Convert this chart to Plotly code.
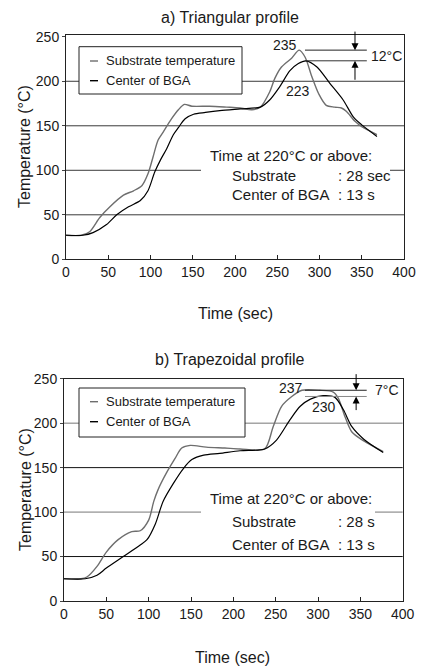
import plotly.graph_objects as go

# ---------------- data ----------------
# a) Triangular profile
a_sub_t = [0, 18, 28, 40, 52, 68, 80, 90, 97, 103, 109, 115, 125, 133, 140, 149, 170, 190, 206, 220,
           230, 241, 247, 255, 267, 276, 283, 291, 299, 308, 318, 326, 332, 342, 350, 368]
a_sub_v = [27, 27, 31, 47, 59, 72, 77, 83, 96, 115, 134, 143, 158, 168, 174, 172, 172, 171, 170, 168,
           171, 188, 203, 216, 226, 235, 227, 205, 186, 173, 171, 170, 166, 155, 149, 140]
a_bga_t = [0, 20, 32, 48, 60, 74, 88, 97, 105, 112, 119, 127, 133, 141, 151, 165, 182, 206, 230,
           241, 253, 265, 275, 284, 297, 312, 328, 340, 350, 368]
a_bga_v = [27, 27, 30, 39, 50, 59, 66, 77, 98, 112, 124, 140, 148, 158, 163, 165, 167, 169, 171,
           179, 194, 212, 220, 223, 216, 198, 179, 160, 151, 138]

# b) Trapezoidal profile
b_sub_t = [0, 20, 27, 39, 50, 64, 80, 90, 100, 106, 111, 121, 131, 139, 149, 168, 190, 208, 237,
           247, 257, 269, 281, 302, 318, 324, 332, 340, 354, 377]
b_sub_v = [25, 25, 27, 39, 55, 69, 78, 79, 91, 112, 125, 144, 160, 172, 175, 173, 172, 171, 171,
           196, 219, 230, 237, 237, 235, 228, 207, 190, 180, 168]
b_bga_t = [0, 25, 39, 50, 70, 90, 98, 108, 117, 129, 141, 151, 165, 184, 208, 237, 251, 267, 279,
           291, 306, 320, 330, 340, 354, 377]
b_bga_v = [25, 25, 29, 37, 50, 63, 69, 87, 112, 132, 149, 159, 164, 166, 169, 171, 181, 204, 219,
           227, 231, 229, 215, 196, 182, 167]

x_ticks = [0, 50, 100, 150, 200, 250, 300, 350, 400]
y_ticks = [0, 50, 100, 150, 200, 250]
grid_vals = [50, 100, 150, 200]
grid_colors_a = ["#3a3a3a", "#3a3a3a", "#3a3a3a", "#3a3a3a"]
grid_colors_b = ["#111111", "#777777", "#111111", "#777777"]

titles = ["a) Triangular profile", "b) Trapezoidal profile"]
series_names = ["Substrate temperature", "Center of BGA"]
peaks_a = [235, 223]
peaks_b = [237, 230]
diff_a = "12°C"
diff_b = "7°C"
tal_a = [": 28 sec", ": 13 s"]
tal_b = [": 28 s", ": 13 s"]

# ---------------- styling ----------------
W, H = 421, 666
FONT = "Liberation Sans, Arial, sans-serif"
TXT = "#1a1a1a"
GRAY = "#6e6e6e"
BLACK = "#000000"


def px(x):
    return x / W


def py(y):
    return 1 - y / H


fig = go.Figure()
fig.add_trace(go.Scatter(x=a_sub_t, y=a_sub_v, mode="lines", name=series_names[0],
                         line=dict(color=GRAY, width=1.4, shape="spline", smoothing=0.8),
                         xaxis="x", yaxis="y", showlegend=False))
fig.add_trace(go.Scatter(x=a_bga_t, y=a_bga_v, mode="lines", name=series_names[1],
                         line=dict(color=BLACK, width=1.2, shape="spline", smoothing=0.8),
                         xaxis="x", yaxis="y", showlegend=False))
fig.add_trace(go.Scatter(x=b_sub_t, y=b_sub_v, mode="lines", name=series_names[0],
                         line=dict(color=GRAY, width=1.4, shape="spline", smoothing=0.8),
                         xaxis="x2", yaxis="y2", showlegend=False))
fig.add_trace(go.Scatter(x=b_bga_t, y=b_bga_v, mode="lines", name=series_names[1],
                         line=dict(color=BLACK, width=1.2, shape="spline", smoothing=0.8),
                         xaxis="x2", yaxis="y2", showlegend=False))

common_x = dict(range=[0, 400], tickvals=x_ticks, ticks="inside", ticklen=4, tickcolor="#222",
                showline=True, linecolor="#222", linewidth=1, mirror=True, showgrid=False,
                zeroline=False, automargin=False, tickfont=dict(size=14, color=TXT, family=FONT))
common_y = dict(tickvals=y_ticks, ticks="outside", ticklen=3, tickcolor="#444",
                showline=True, linecolor="#222", linewidth=1, mirror=True, showgrid=False,
                zeroline=False, automargin=False,
                tickfont=dict(size=14, color=TXT, family=FONT))

fig.update_layout(
    width=W, height=H, margin=dict(l=0, r=0, t=0, b=0, autoexpand=False),
    paper_bgcolor="white", plot_bgcolor="white",
    font=dict(family=FONT, color=TXT),
    xaxis=dict(domain=[px(66), px(404)], anchor="y", **common_x),
    yaxis=dict(domain=[py(259.3), py(35)], anchor="x", range=[0, 252], **common_y),
    xaxis2=dict(domain=[px(64), px(402.7)], anchor="y2", **common_x),
    yaxis2=dict(domain=[py(601), py(378.7)], anchor="x2", range=[0, 250], **common_y),
)

shapes = []
ann = []

# horizontal grid lines
for xr, yr, cols in [("x", "y", grid_colors_a), ("x2", "y2", grid_colors_b)]:
    for gv, gc in zip(grid_vals, cols):
        shapes.append(dict(type="line", xref=xr + " domain", yref=yr, x0=0, x1=1, y0=gv, y1=gv,
                           line=dict(color=gc, width=1), layer="below"))

# titles and axis titles
for title, ty, xt_y, yt_y, xc in [(titles[0], 18, 314, 147, 235),
                                   (titles[1], 359, 657, 490, 233)]:
    ann.append(dict(text=title, x=px(230), y=py(ty), xref="paper", yref="paper",
                    showarrow=False, font=dict(size=16, color=TXT), xanchor="center", yanchor="middle"))
    ann.append(dict(text="Time (sec)", x=px(xc), y=py(xt_y), xref="paper", yref="paper",
                    showarrow=False, font=dict(size=16, color=TXT), xanchor="center", yanchor="middle"))
    ann.append(dict(text="Temperature (°C)", x=px(25), y=py(yt_y), xref="paper", yref="paper",
                    textangle=-90, showarrow=False, font=dict(size=16, color=TXT),
                    xanchor="center", yanchor="middle"))

# legends (box + samples)
for (x0, x1, y0, y1, iy1, iy2) in [(79, 242, 46.7, 94, 61, 80.7),
                                   (79, 245, 388, 437, 401.7, 421.7)]:
    shapes.append(dict(type="rect", xref="paper", yref="paper", x0=px(x0), x1=px(x1),
                       y0=py(y1), y1=py(y0), line=dict(color="#222", width=1),
                       fillcolor="white", layer="above"))
    for iy, col, name in [(iy1, GRAY, series_names[0]), (iy2, BLACK, series_names[1])]:
        shapes.append(dict(type="line", xref="paper", yref="paper", x0=px(90), x1=px(98),
                           y0=py(iy), y1=py(iy), line=dict(color=col, width=1.4), layer="above"))
        ann.append(dict(text=name, x=px(104), y=py(iy), xref="paper", yref="paper",
                        showarrow=False, font=dict(size=13, color=TXT),
                        xanchor="left", yanchor="middle"))

# "Time at 220°C or above" text boxes
for (rx0, rx1, ry0, ry1, r1, r2, r3, vals) in [(201, 390, 143, 205, 155.7, 175, 194, tal_a),
                                               (201, 375, 486, 552, 498, 521, 544, tal_b)]:
    shapes.append(dict(type="rect", xref="paper", yref="paper", x0=px(rx0), x1=px(rx1),
                       y0=py(ry1), y1=py(ry0), line=dict(width=0), fillcolor="white", layer="above"))
    ann.append(dict(text="Time at 220°C or above:", x=px(208), y=py(r1), xref="paper", yref="paper",
                    showarrow=False, font=dict(size=15, color=TXT), xanchor="left", yanchor="middle"))
    for ry, lab, val in [(r2, "Substrate", vals[0]), (r3, "Center of BGA", vals[1])]:
        ann.append(dict(text=lab, x=px(230), y=py(ry), xref="paper", yref="paper",
                        showarrow=False, font=dict(size=15, color=TXT), xanchor="left", yanchor="middle"))
        ann.append(dict(text=val, x=px(336), y=py(ry), xref="paper", yref="paper",
                        showarrow=False, font=dict(size=15, color=TXT), xanchor="left", yanchor="middle"))

# peak markers
for (xr, yr, peaks, diff, lx0, lx1, arx, top_v, bot_v, p1pos, p2pos, dpos, c2) in [
        ("x", "y", peaks_a, diff_a, 282.8, 356, 342, 257.5, 200, (259, 240.6), (274.5, 189), (358.6, 228.3), "#333"),
        ("x2", "y2", peaks_b, diff_b, 284.6, 357.5, 345, 256.8, 213, (267.5, 240), (307, 218.6), (365, 237.3), "#888")]:
    shapes.append(dict(type="line", xref=xr, yref=yr, x0=lx0, x1=lx1, y0=peaks[0], y1=peaks[0],
                       line=dict(color="#222", width=1)))
    shapes.append(dict(type="line", xref=xr, yref=yr, x0=lx0, x1=lx1, y0=peaks[1], y1=peaks[1],
                       line=dict(color=c2, width=1)))
    ann.append(dict(text="", x=arx, y=peaks[0], ax=arx, ay=top_v, xref=xr, yref=yr,
                    axref=xr, ayref=yr, showarrow=True, arrowhead=2, arrowsize=1.4,
                    arrowwidth=1, arrowcolor="#000"))
    ann.append(dict(text="", x=arx, y=peaks[1], ax=arx, ay=bot_v, xref=xr, yref=yr,
                    axref=xr, ayref=yr, showarrow=True, arrowhead=2, arrowsize=1.4,
                    arrowwidth=1, arrowcolor="#000"))
    ann.append(dict(text=str(peaks[0]), x=p1pos[0], y=p1pos[1], xref=xr, yref=yr, showarrow=False,
                    font=dict(size=14, color=TXT), xanchor="center", yanchor="middle"))
    ann.append(dict(text=str(peaks[1]), x=p2pos[0], y=p2pos[1], xref=xr, yref=yr, showarrow=False,
                    font=dict(size=14, color=TXT), xanchor="center", yanchor="middle"))
    ann.append(dict(text=diff, x=dpos[0], y=dpos[1], xref=xr, yref=yr, showarrow=False,
                    font=dict(size=14, color=TXT), xanchor="left", yanchor="middle"))

fig.update_layout(shapes=shapes, annotations=ann)
fig.write_html("out.html", config={"displayModeBar": False},
               post_script="document.body.style.margin='0';document.body.style.overflow='hidden';")
